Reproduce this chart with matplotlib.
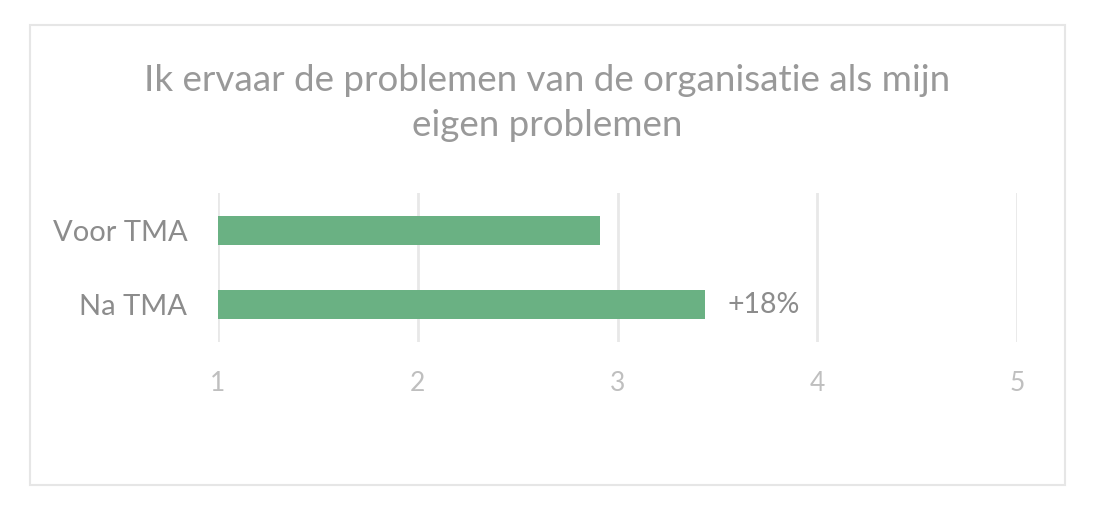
import matplotlib
matplotlib.use("Agg")
import matplotlib.pyplot as plt
from matplotlib.patches import Rectangle

categories = ["Na TMA", "Voor TMA"]
values = [3.44, 2.91]
bar_labels = ["+18%", ""]
xticks = [1, 2, 3, 4, 5]
title = "Ik ervaar de problemen van de organisatie als mijn\neigen problemen"

plt.rcParams['font.family'] = ['Lato', 'DejaVu Sans']

W, H = 1110, 508
fig = plt.figure(figsize=(W / 100, H / 100), dpi=100)
fig.patch.set_facecolor("white")

# outer chart border
fig.patches.append(Rectangle((30 / W, 1 - 485 / H), 1035 / W, 460 / H,
                             transform=fig.transFigure, fill=False,
                             edgecolor="#e6e6e6", linewidth=1.5))

ax = fig.add_axes([218 / W, 1 - 342 / H, 799 / W, 149 / H])
ypos = list(range(len(categories)))
ax.barh(ypos, [v - 1 for v in values], left=1, height=0.39, color="#6ab183", zorder=3)

for y, v, lab in zip(ypos, values, bar_labels):
    if lab:
        ax.text(v + 0.11, y, lab, va="center", ha="left", fontsize=20.5, color="#8c8c8c")

ax.set_xlim(1, 5)
ax.set_ylim(-0.5, 1.5)
ax.set_xticks(xticks)
ax.set_xticklabels([str(t) for t in xticks], fontsize=19, color="#bfbfbf")
ax.set_yticks(ypos)
ax.set_yticklabels(categories, fontsize=21, color="#8c8c8c")
ax.tick_params(axis="both", length=0)
ax.tick_params(axis="x", pad=21)
ax.tick_params(axis="y", pad=22)
ax.grid(axis="x", color="#e8e8e8", linewidth=2, zorder=0)
for s in ax.spines.values():
    s.set_visible(False)

fig.text(547 / W, 1 - 103 / H, title, ha="center", va="center", fontsize=26.5,
         color="#999999", linespacing=1.45)

fig.savefig("out.png", dpi=100, facecolor="white")
